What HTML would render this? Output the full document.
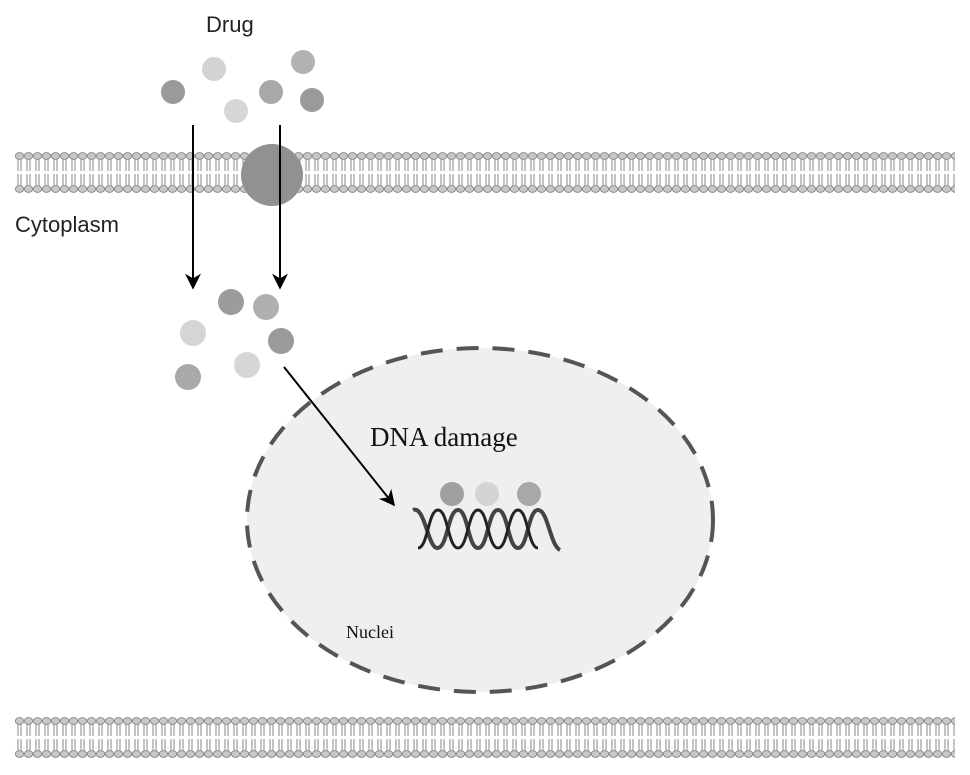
<!DOCTYPE html>
<html><head><style>body{margin:0;background:#fff}svg{display:block}</style></head><body>
<svg width="970" height="775" viewBox="0 0 970 775" xmlns="http://www.w3.org/2000/svg">
<defs>
<pattern id="lip" x="15" y="0" width="9" height="48" patternUnits="userSpaceOnUse">
<ellipse cx="4.5" cy="6" rx="4.2" ry="3.4" fill="#c8c8c8" stroke="#8a8a8a" stroke-width="0.9"/>
<path d="M3 9 V21 M6 9 V21 M3 24 V36 M6 24 V36" stroke="#8a8a8a" stroke-width="1"/>
<ellipse cx="4.5" cy="39" rx="4.2" ry="3.4" fill="#c8c8c8" stroke="#8a8a8a" stroke-width="0.9"/>
</pattern>
<marker id="ah2" viewBox="0 0 10 10" refX="9" refY="5" markerWidth="18" markerHeight="16" markerUnits="userSpaceOnUse" orient="auto"><path d="M0 0 L10 5 L0 10 L3 5 Z" fill="#000"/></marker>
</defs>
<g transform="translate(0,150)"><rect x="15" y="0" width="940" height="45" fill="url(#lip)"/></g>
<g transform="translate(0,715)"><rect x="15" y="0" width="940" height="45" fill="url(#lip)"/></g>
<circle cx="272" cy="175" r="31" fill="#919191"/>
<text x="206" y="32" font-family="Liberation Sans, sans-serif" font-size="22" fill="#222">Drug</text>
<text x="15" y="232" font-family="Liberation Sans, sans-serif" font-size="22" fill="#222">Cytoplasm</text>
<g>
<circle cx="173" cy="92" r="12" fill="#9a9a9a"/>
<circle cx="214" cy="69" r="12" fill="#d3d3d3"/>
<circle cx="236" cy="111" r="12" fill="#d6d6d6"/>
<circle cx="271" cy="92" r="12" fill="#a8a8a8"/>
<circle cx="303" cy="62" r="12" fill="#b2b2b2"/>
<circle cx="312" cy="100" r="12" fill="#9a9a9a"/>
<circle cx="231" cy="302" r="13" fill="#9c9c9c"/>
<circle cx="266" cy="307" r="13" fill="#b0b0b0"/>
<circle cx="193" cy="333" r="13" fill="#d5d5d5"/>
<circle cx="281" cy="341" r="13" fill="#9a9a9a"/>
<circle cx="188" cy="377" r="13" fill="#a9a9a9"/>
<circle cx="247" cy="365" r="13" fill="#d6d6d6"/>
</g>
<line x1="193" y1="125" x2="193" y2="288" stroke="#000" stroke-width="2" marker-end="url(#ah2)"/>
<line x1="280" y1="125" x2="280" y2="288" stroke="#000" stroke-width="2" marker-end="url(#ah2)"/>
<ellipse cx="480" cy="520" rx="233" ry="172" fill="#efefef" stroke="#555" stroke-width="4" stroke-dasharray="22 14"/>
<line x1="284" y1="367" x2="394" y2="505" stroke="#000" stroke-width="2" marker-end="url(#ah2)"/>
<text x="370" y="446" font-family="Liberation Serif, serif" font-size="27" fill="#111">DNA damage</text>
<text x="346" y="638" font-family="Liberation Serif, serif" font-size="18" fill="#111">Nuclei</text>
<circle cx="452" cy="494" r="12" fill="#a0a0a0"/>
<circle cx="487" cy="494" r="12" fill="#d4d4d4"/>
<circle cx="529" cy="494" r="12" fill="#a8a8a8"/>
<path d="M413 510 C425 505 428 550 438 548 C448 546 448 510 458 510 C468 510 468 548 478 548 C488 548 488 510 498 510 C508 510 508 548 518 548 C528 548 528 510 538 510 C548 510 550 545 560 550" fill="none" stroke="#444" stroke-width="4"/>
<path d="M418 548 C428 548 428 510 438 510 C448 510 448 548 458 548 C468 548 468 510 478 510 C488 510 488 548 498 548 C508 548 508 510 518 510 C528 510 528 548 538 548" fill="none" stroke="#222" stroke-width="3"/>
</svg>
</body></html>
